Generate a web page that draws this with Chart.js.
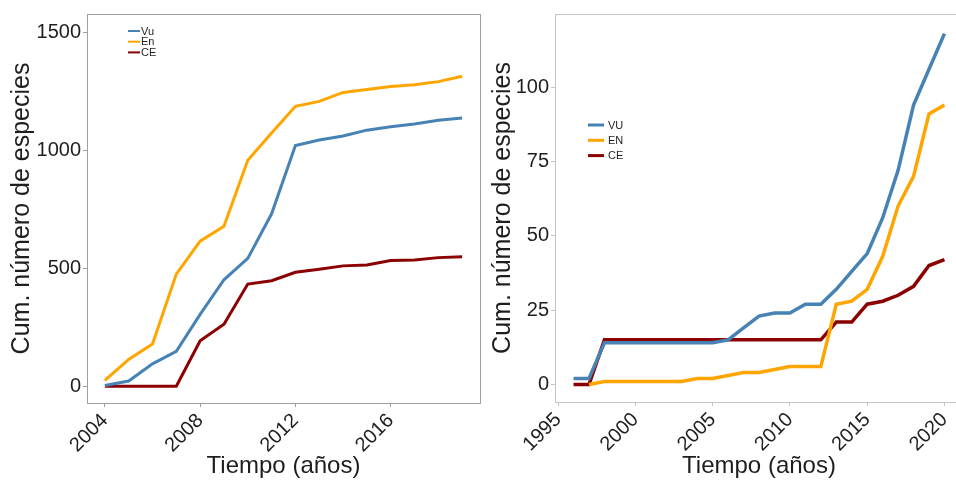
<!DOCTYPE html>
<html>
<head>
<meta charset="utf-8">
<script src="https://cdn.jsdelivr.net/npm/chart.js@4.4.1/dist/chart.umd.min.js"></script>
<style>
  html, body { margin: 0; padding: 0; background: #fff; overflow: hidden; width: 956px; height: 481px; }
  .panel { position: absolute; top: 0; height: 481px; }
  #wrapA { left: 0; width: 482px; }
  #wrapB { left: 480px; width: 490px; }
</style>
</head>
<body>
<div class="panel" id="wrapA"><canvas id="chartA"></canvas></div>
<div class="panel" id="wrapB"><canvas id="chartB"></canvas></div>
<script>
// Panel A: cumulative species per category, 2004-2019
const yearsA = [2004, 2005, 2006, 2007, 2008, 2009, 2010, 2011, 2012, 2013, 2014, 2015, 2016, 2017, 2018, 2019];
const vuA = [3, 22, 95, 148, 305, 452, 543, 732, 1022, 1045, 1062, 1087, 1101, 1113, 1129, 1139];
const enA = [25, 114, 179, 476, 616, 679, 959, 1075, 1188, 1209, 1247, 1260, 1272, 1280, 1293, 1316];
const ceA = [0, 0, 0, 0, 193, 263, 434, 448, 484, 497, 511, 515, 534, 536, 546, 550];
const labelsA = ['Vu', 'En', 'CE'];
const xTicksA = [2004, 2008, 2012, 2016];
const yTicksA = [0, 500, 1000, 1500];

// Panel B: cumulative species per category, 1996-2020
const yearsB = [1996, 1997, 1998, 1999, 2000, 2001, 2002, 2003, 2004, 2005, 2006, 2007, 2008, 2009, 2010, 2011, 2012, 2013, 2014, 2015, 2016, 2017, 2018, 2019, 2020];
const vuB = [2, 2, 14, 14, 14, 14, 14, 14, 14, 14, 15, 19, 23, 24, 24, 27, 27, 32, 38, 44, 56, 72, 94, 106, 118];
const enB = [null, 0, 1, 1, 1, 1, 1, 1, 2, 2, 3, 4, 4, 5, 6, 6, 6, 27, 28, 32, 43, 60, 70, 91, 94];
const ceB = [0, 0, 15, 15, 15, 15, 15, 15, 15, 15, 15, 15, 15, 15, 15, 15, 15, 21, 21, 27, 28, 30, 33, 40, 42];
const labelsB = ['VU', 'EN', 'CE'];
const xTicksB = [1995, 2000, 2005, 2010, 2015, 2020];
const yTicksB = [0, 25, 50, 75, 100];

const COLORS = ['#4682B4', '#FFA500', '#8B0000'];
const FONT = "'Liberation Sans', Arial, Helvetica, sans-serif";
const TEXT = '#1e1e1e';

function points(xs, ys) {
  return xs.map((x, i) => ({ x: x, y: ys[i] })).filter(p => p.y !== null);
}

// Panel frame plus an in-panel legend
const framePlugin = {
  id: 'frame',
  afterDraw(chart, args, opts) {
    const { ctx, chartArea: a } = chart;
    ctx.save();
    ctx.strokeStyle = opts.color;
    ctx.lineWidth = 1;
    ctx.strokeRect(Math.round(a.left) + 0.5, Math.round(a.top) + 0.5,
                   Math.round(a.right - a.left), Math.round(a.bottom - a.top));
    const L = opts.legend;
    ctx.font = L.size + 'px ' + FONT;
    ctx.textBaseline = 'middle';
    ctx.textAlign = 'left';
    chart.data.datasets.forEach((ds, i) => {
      const y = L.y + i * L.gap;
      ctx.strokeStyle = ds.borderColor;
      ctx.lineWidth = L.lw;
      ctx.beginPath();
      ctx.moveTo(L.x, y);
      ctx.lineTo(L.x + L.len, y);
      ctx.stroke();
      ctx.fillStyle = TEXT;
      ctx.fillText(ds.label, L.x + L.len + L.textGap, y + 0.5);
    });
    ctx.restore();
  }
};

function makeChart(id, cfg) {
  const datasets = cfg.series.map((s, i) => ({
    label: cfg.labels[i],
    data: points(cfg.years, s),
    borderColor: COLORS[i],
    backgroundColor: COLORS[i],
    borderWidth: cfg.lineWidth,
    pointRadius: 0,
    tension: 0,
    fill: false
  }));
  return new Chart(document.getElementById(id), {
    type: 'line',
    data: { datasets: datasets },
    plugins: [framePlugin],
    options: {
      responsive: true,
      maintainAspectRatio: false,
      animation: false,
      layout: { padding: { left: 0, top: cfg.top, right: cfg.right, bottom: 0 } },
      plugins: {
        legend: { display: false },
        tooltip: { enabled: false },
        frame: { color: cfg.frameColor, legend: cfg.legend }
      },
      scales: {
        x: {
          type: 'linear',
          min: cfg.xMin, max: cfg.xMax,
          afterBuildTicks: s => { s.ticks = cfg.xTicks.map(v => ({ value: v })); },
          afterFit: s => { s.height = cfg.xHeight; },
          border: { display: false },
          grid: { drawOnChartArea: false, tickLength: 4, tickColor: cfg.frameColor, lineWidth: 1 },
          ticks: {
            autoSkip: false, minRotation: 45, maxRotation: 45, padding: 2,
            color: TEXT, font: { family: FONT, size: 20 },
            callback: v => String(v)
          },
          title: {
            display: true, text: 'Tiempo (años)', color: TEXT,
            font: { family: FONT, size: 24 }, padding: { top: 0, bottom: 0 }
          }
        },
        y: {
          type: 'linear',
          min: cfg.yMin, max: cfg.yMax,
          afterBuildTicks: s => { s.ticks = cfg.yTicks.map(v => ({ value: v })); },
          afterFit: s => { s.width = cfg.yWidth; },
          border: { display: false },
          grid: { drawOnChartArea: false, tickLength: 4, tickColor: cfg.frameColor, lineWidth: 1 },
          ticks: {
            padding: 2, color: TEXT, font: { family: FONT, size: 20 },
            callback: v => String(v)
          },
          title: {
            display: true, text: 'Cum. número de especies', color: TEXT,
            font: { family: FONT, size: 25 }, padding: { top: cfg.yTitlePad, bottom: 0 }
          }
        }
      }
    }
  });
}

makeChart('chartA', {
  years: yearsA, series: [vuA, enA, ceA], labels: labelsA,
  xTicks: xTicksA, yTicks: yTicksA,
  xMin: 2003.25, xMax: 2019.75, yMin: -71, yMax: 1580,
  top: 10, right: 2, xHeight: 78, yWidth: 87, yTitlePad: 7,
  lineWidth: 3, frameColor: '#a0a0a0',
  legend: { x: 128, y: 31, gap: 10.7, len: 12, lw: 2, size: 11, textGap: 1 }
});

makeChart('chartB', {
  years: yearsB, series: [vuB, enB, ceB], labels: labelsB,
  xTicks: xTicksB, yTicks: yTicksB,
  xMin: 1994.8, xMax: 2021.2, yMin: -5.9, yMax: 124.6,
  top: 5, right: 7, xHeight: 79, yWidth: 75, yTitlePad: 8,
  lineWidth: 3.5, frameColor: '#c4c4c4',
  legend: { x: 108, y: 125, gap: 15.3, len: 16, lw: 3, size: 11, textGap: 4 }
});
</script>
</body>
</html>
